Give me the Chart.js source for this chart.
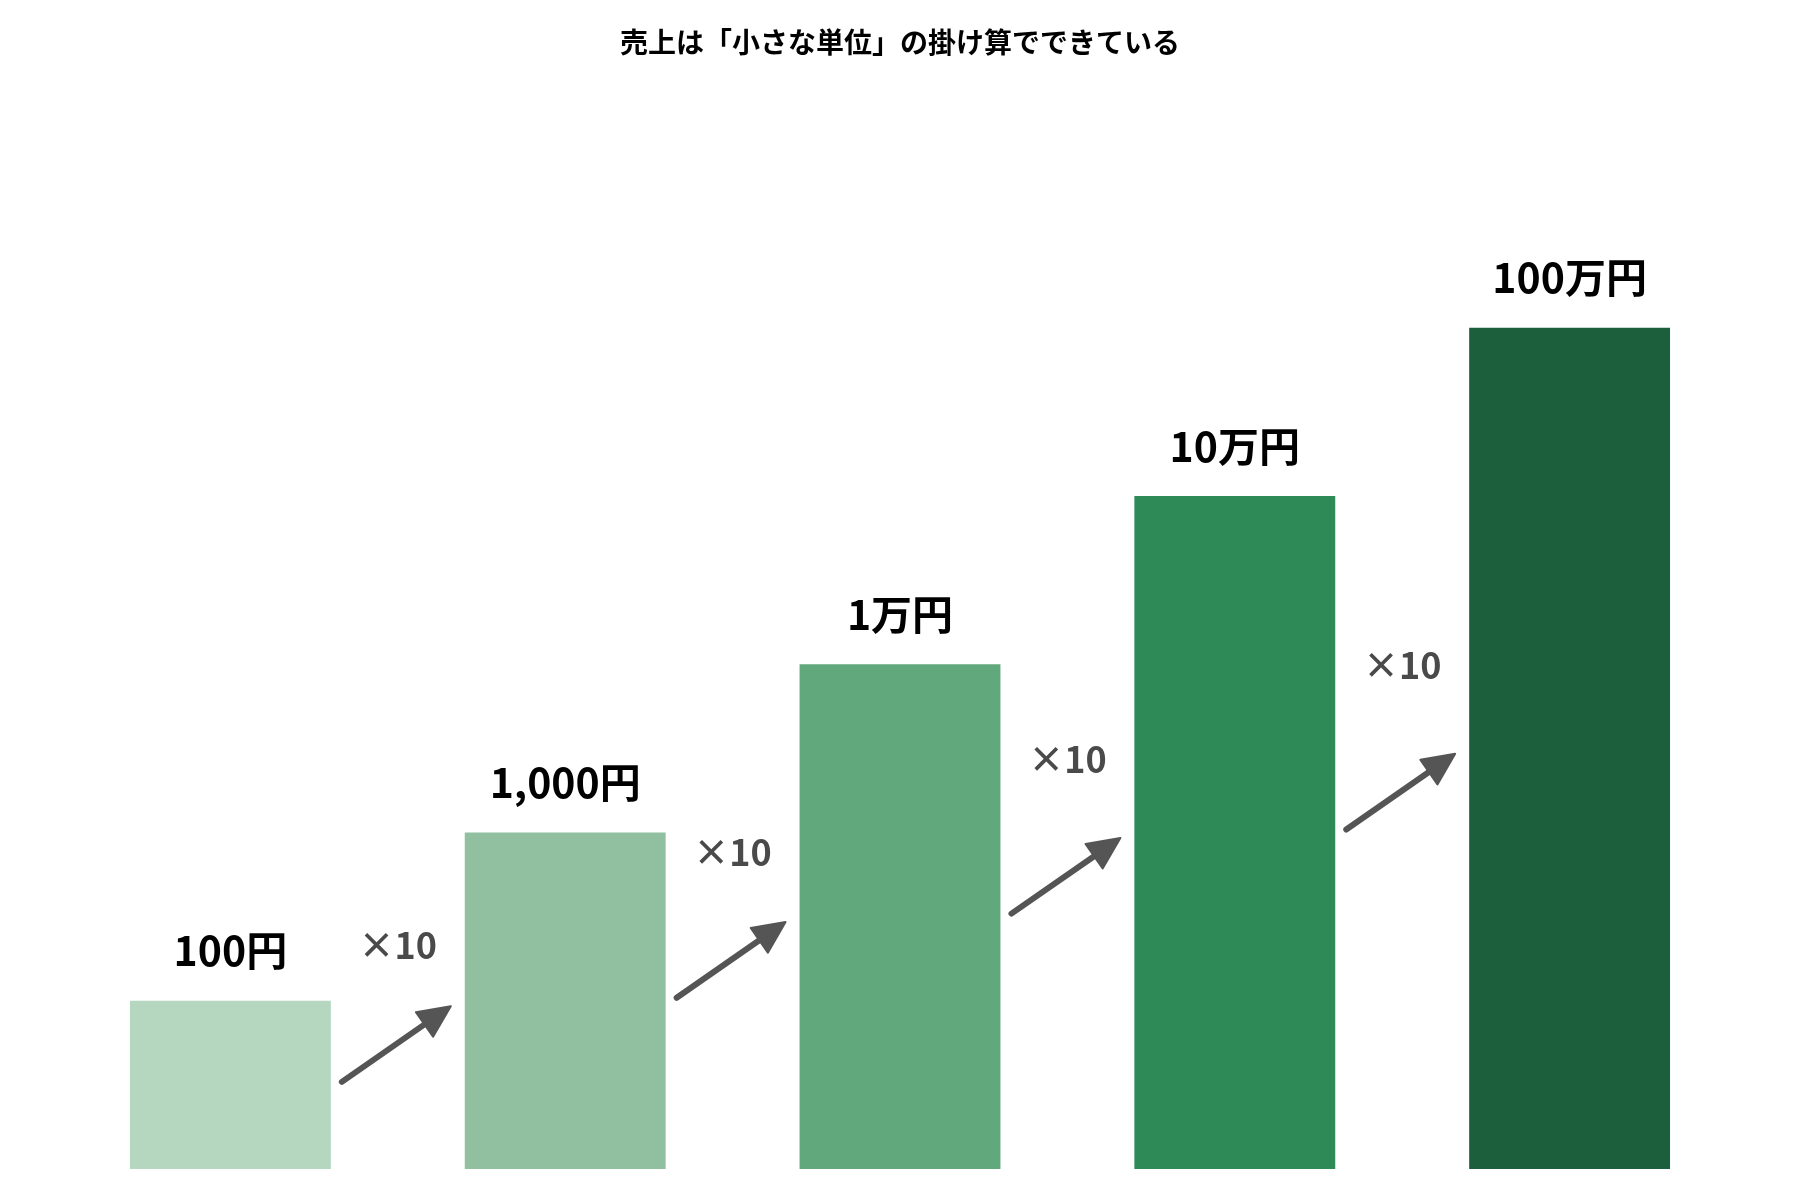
<!DOCTYPE html>
<html lang="ja">
<head>
<meta charset="utf-8">
<title>売上は「小さな単位」の掛け算でできている</title>
<script src="https://cdn.jsdelivr.net/npm/chart.js@4/dist/chart.umd.min.js"></script>
<style>
  html, body { margin: 0; padding: 0; background: #fff; }
  #wrap { width: 1800px; height: 1200px; }
</style>
</head>
<body>
<div id="wrap"><canvas id="c"></canvas></div>
<script>
// data
const categories = ['100円', '1,000円', '1万円', '10万円', '100万円'];
const amounts = [100, 1000, 10000, 100000, 1000000];
const stepLabels = ['×10', '×10', '×10', '×10'];
const barColors = ['#b5d7c0', '#90c09f', '#61a97d', '#2e8b57', '#1c5f3c'];

const FONT = '"Noto Sans CJK JP", "Noto Sans", sans-serif';

// value labels, arrows and ×10 marks drawn on top of bars
const annotate = {
  id: 'annotate',
  afterDatasetsDraw(chart) {
    const ctx = chart.ctx;
    const meta = chart.getDatasetMeta(0);
    const y = chart.scales.y;
    const bottom = y.getPixelForValue(10);
    const decade = bottom - y.getPixelForValue(100);

    ctx.save();
    ctx.textAlign = 'center';
    ctx.textBaseline = 'middle';

    // labels above bars
    ctx.fillStyle = '#000';
    ctx.font = 'bold 41px ' + FONT;
    meta.data.forEach((bar, i) => {
      ctx.fillText(categories[i], bar.x, bar.y - 50);
    });

    // arrows + ×10 between bars
    for (let i = 0; i < stepLabels.length; i++) {
      const a = meta.data[i], b = meta.data[i + 1];
      const aRight = a.x + a.width / 2;
      const bLeft = b.x - b.width / 2;
      const x0 = aRight + 11, y0 = bottom - decade * 0.5 * (i + 1) - 3;
      const x1 = bLeft - 14, y1 = y0 - decade * 0.45;
      const ang = Math.atan2(y1 - y0, x1 - x0);
      const headLen = 32, headW = 15;
      const bx = x1 - headLen * Math.cos(ang), by = y1 - headLen * Math.sin(ang);

      ctx.strokeStyle = '#555';
      ctx.fillStyle = '#555';
      ctx.lineWidth = 6;
      ctx.lineCap = 'round';
      ctx.beginPath();
      ctx.moveTo(x0, y0);
      ctx.lineTo(bx + 4 * Math.cos(ang), by + 4 * Math.sin(ang));
      ctx.stroke();

      ctx.beginPath();
      ctx.moveTo(x1, y1);
      ctx.lineTo(bx + headW * Math.sin(ang), by - headW * Math.cos(ang));
      ctx.lineTo(bx - headW * Math.sin(ang), by + headW * Math.cos(ang));
      ctx.closePath();
      ctx.lineJoin = 'round';
      ctx.lineWidth = 2;
      ctx.fill();
      ctx.stroke();

      ctx.fillStyle = '#4a4a4a';
      ctx.font = 'bold 36px ' + FONT;
      const ly = bottom - decade * (0.555 * (i + 1) + 0.76) - 2;
      ctx.fillText(stepLabels[i], (aRight + bLeft) / 2, ly);
    }
    ctx.restore();
  }
};

new Chart(document.getElementById('c'), {
  type: 'bar',
  data: {
    labels: categories,
    datasets: [{
      data: amounts,
      backgroundColor: barColors,
      borderWidth: 0,
      barPercentage: 0.75,
      categoryPercentage: 0.8
    }]
  },
  options: {
    responsive: true,
    maintainAspectRatio: false,
    animation: false,
    layout: { padding: { left: 63, right: 63, bottom: 31 } },
    plugins: {
      legend: { display: false },
      tooltip: { enabled: false },
      title: {
        display: true,
        text: '売上は「小さな単位」の掛け算でできている',
        color: '#000',
        font: { family: FONT, size: 28, weight: 'bold' },
        padding: { top: 26, bottom: 100 }
      }
    },
    scales: {
      x: { display: false },
      y: { type: 'logarithmic', min: 10, max: 10000000, display: false }
    }
  },
  plugins: [annotate]
});
</script>
</body>
</html>
